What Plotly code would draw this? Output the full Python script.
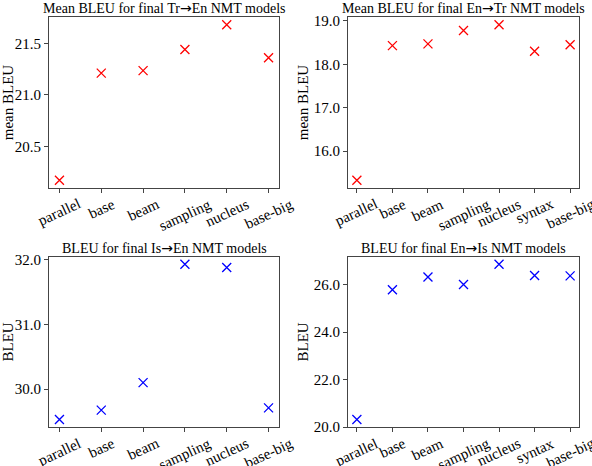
import plotly.graph_objects as go

# model names per panel
models_tr = ["parallel", "base", "beam", "sampling", "nucleus", "base-big"]
models_en = ["parallel", "base", "beam", "sampling", "nucleus", "syntax", "base-big"]

# BLEU scores
bleu_tr_en = [20.17, 21.21, 21.235, 21.44, 21.68, 21.36]
bleu_en_tr = [15.33, 18.43, 18.47, 18.78, 18.91, 18.30, 18.45]
bleu_is_en = [29.53, 29.675, 30.10, 31.93, 31.88, 29.71]
bleu_en_is = [20.32, 25.79, 26.32, 26.01, 26.86, 26.39, 26.37]

ARROW = "<span style='font-family:DejaVu Sans'>→</span>"
titles = [
    f"Mean BLEU for final Tr{ARROW}En NMT models",
    f"Mean BLEU for final En{ARROW}Tr NMT models",
    f"BLEU for final Is{ARROW}En NMT models",
    f"BLEU for final En{ARROW}Is NMT models",
]
ylabels = ["mean BLEU", "mean BLEU", "BLEU", "BLEU"]
dticks = [0.5, 1.0, 1.0, 2.0]

W, H = 592, 466
FONT = "Liberation Serif"
AX = "#444444"

# pixel boxes of the four axes (left, right, top, bottom), title centre, ylabel gap
boxes = [(49, 279, 17, 188, 8.5, 6), (348, 579, 17, 188, 8.5, 1),
         (49, 279, 256.5, 427.3, 247.5, 6), (348, 579, 256.5, 427.3, 247.5, 1)]

panels = [
    (models_tr, bleu_tr_en, "red"),
    (models_en, bleu_en_tr, "red"),
    (models_tr, bleu_is_en, "blue"),
    (models_en, bleu_en_is, "blue"),
]

fig = go.Figure()
axes = {}
for i, ((cats, vals, col), box) in enumerate(zip(panels, boxes)):
    n = i + 1
    sfx = "" if n == 1 else str(n)
    xa, ya = "x" + sfx, "y" + sfx
    fig.add_trace(go.Scatter(
        x=cats, y=vals, mode="markers", xaxis=xa, yaxis=ya,
        marker=dict(symbol="x-thin-open", size=9, color=col,
                    line=dict(color=col, width=1.3)),
        showlegend=False, hoverinfo="skip",
    ))
    l, r, t, b, ty, gap = box
    lo, hi = min(vals), max(vals)
    pad = (hi - lo) * 0.05
    common = dict(showline=True, linecolor=AX, linewidth=1, mirror=True,
                  ticks="outside", ticklen=4, tickcolor=AX, showgrid=False,
                  zeroline=False, automargin=False)
    axes["xaxis" + sfx] = dict(
        domain=[l / W, r / W], anchor=ya, type="category",
        range=[-0.25, len(cats) - 0.75], showticklabels=False, **common)
    axes["yaxis" + sfx] = dict(
        domain=[1 - b / H, 1 - t / H], anchor=xa,
        range=[lo - pad, hi + pad], dtick=dticks[i], tickformat=".1f",
        tickfont=dict(family=FONT, size=15, color="black"),
        title=dict(text=ylabels[i], standoff=gap,
                   font=dict(family=FONT, size=15, color="black")),
        **common)
    # subplot title
    fig.add_annotation(text=titles[i], xref="paper", yref="paper",
                       x=(l + r) / 2 / W, y=1 - ty / H,
                       xanchor="center", yanchor="middle", showarrow=False,
                       font=dict(family=FONT, size=14, color="black"))
    # rotated category labels
    for c in cats:
        fig.add_annotation(text=c, xref=xa, yref="paper", x=c,
                           y=1 - b / H, yshift=-5, xanchor="center",
                           yanchor="top", textangle=-25, showarrow=False,
                           font=dict(family=FONT, size=15, color="black"))

fig.update_layout(width=W, height=H, margin=dict(l=0, r=0, t=0, b=0),
                  plot_bgcolor="white", paper_bgcolor="white",
                  font=dict(family=FONT, color="black"), **axes)
fig.write_html("out.html", config={"displayModeBar": False},
               post_script="document.body.style.margin='0';")
